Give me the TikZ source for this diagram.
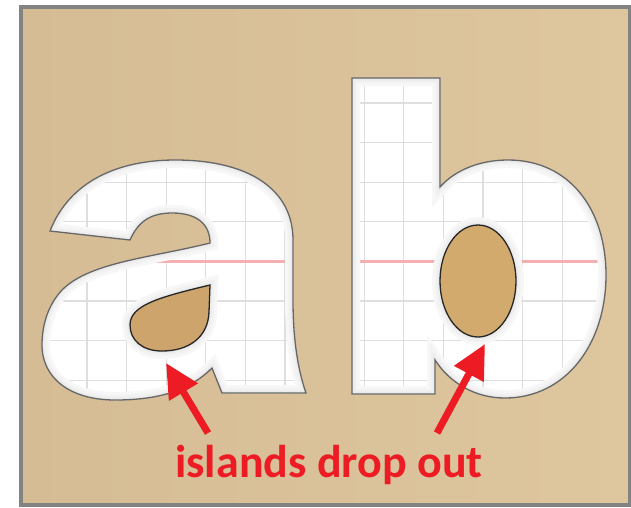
\documentclass[tikz,border=0pt]{standalone}
\usepackage{fontspec}
\newfontfamily\labelfont{Carlito}
\usetikzlibrary{arrows.meta}
\definecolor{tanL}{RGB}{213,188,149}
\definecolor{tanM}{RGB}{225,200,160}
\definecolor{tanR}{RGB}{222,198,158}
\definecolor{frameGray}{RGB}{131,131,131}
\definecolor{holeA}{RGB}{204,164,108}
\definecolor{holeB}{RGB}{210,170,110}
\definecolor{arrowRed}{RGB}{237,28,36}
\definecolor{gridGray}{RGB}{222,222,222}
\definecolor{pinkLine}{RGB}{244,176,176}

\def\aOutline{(50,231) -- (130,240) .. controls (138,222) and (150,213) .. (172,213) .. controls (198,213) and (210,225) .. (210,243) .. controls (150,258) and (90,262) .. (62,290) .. controls (48,305) and (42,325) .. (42,345) .. controls (42,378) and (70,400) .. (115,400) .. controls (160,400) and (190,390) .. (212,368) -- (222,393) -- (306,393) .. controls (298,370) and (293,340) .. (293,300) -- (293,240) .. controls (293,190) and (250,160) .. (175,160) .. controls (120,160) and (70,180) .. (50,231) -- cycle}
\def\aHole{(210,285) -- (209,312) .. controls (208,338) and (188,351) .. (162,351) .. controls (142,351) and (130,340) .. (130,325) .. controls (130,305) and (160,297) .. (210,285) -- cycle}
\def\bOutline{(352,78) -- (440,78) -- (440,187) .. controls (455,170) and (480,160) .. (508,160) .. controls (570,160) and (606,210) .. (606,275) .. controls (606,345) and (565,398) .. (505,398) .. controls (475,398) and (450,383) .. (435,360) -- (435,394) -- (352,394) -- cycle}
\def\bHole{(478,281) ellipse [x radius=38, y radius=56]}

\tikzset{
  letteredge/.style={draw=black!60, line width=1.3pt},
  holeedge/.style={draw=black!85, line width=1.3pt},
  gridline/.style={draw=gridGray, line width=1.2pt},
  pinkrule/.style={draw=pinkLine, line width=2.4pt},
  redarrow/.style={draw=arrowRed, line width=7pt, -{Triangle[length=34pt,width=32pt]}},
  shadeA/.style={draw=black!3, line width=16pt},
  shadeB/.style={draw=black!5, line width=10pt},
  shadeC/.style={draw=black!8, line width=5pt},
}

\begin{document}
\begin{tikzpicture}[x=1pt,y=-1pt]
\useasboundingbox (0,0) rectangle (631,507);
\fill[white] (0,0) rectangle (631,507);
% background
\shade[left color=tanL, middle color=tanM, right color=tanR] (21,6.5) rectangle (629.5,505);
\draw[frameGray, line width=4pt] (21,6.5) rectangle (629.5,505);

% letters
\foreach \outl/\hole/\fillc in {\aOutline/\aHole/holeA, \bOutline/\bHole/holeB} {
  \fill[white] \outl;
  \begin{scope}
    \clip \outl;
    \foreach \i in {0,...,13} {\draw[gridline] ({87+39.6*\i},60) -- ({87+39.6*\i},410);}
    \foreach \j in {0,...,8} {\draw[gridline] (30,{103+39.6*\j}) -- (620,{103+39.6*\j});}
    \draw[pinkrule] (140,261.5) -- (293,261.5);
    \draw[pinkrule] (357,261.5) -- (600,261.5);
    \draw[shadeA] \outl;
    \draw[shadeB] \outl;
    \draw[shadeC] \outl;
    \draw[shadeA] \hole;
    \draw[shadeB] \hole;
    \draw[shadeC] \hole;
  \end{scope}
  \draw[letteredge] \outl;
  \fill[\fillc] \hole;
  \draw[holeedge] \hole;
}

% label and arrows
\node[text=arrowRed, inner sep=0pt, anchor=base,
      font=\labelfont\bfseries\fontsize{46}{50}\selectfont] (lbl) at (329,477) {islands drop out};
\coordinate (tailL) at (208,433);
\coordinate (tipL) at (166,363);
\coordinate (tailR) at (437,433);
\coordinate (tipR) at (485,344);
\draw[redarrow] (tailL) -- (tipL);
\draw[redarrow] (tailR) -- (tipR);
\end{tikzpicture}
\end{document}
